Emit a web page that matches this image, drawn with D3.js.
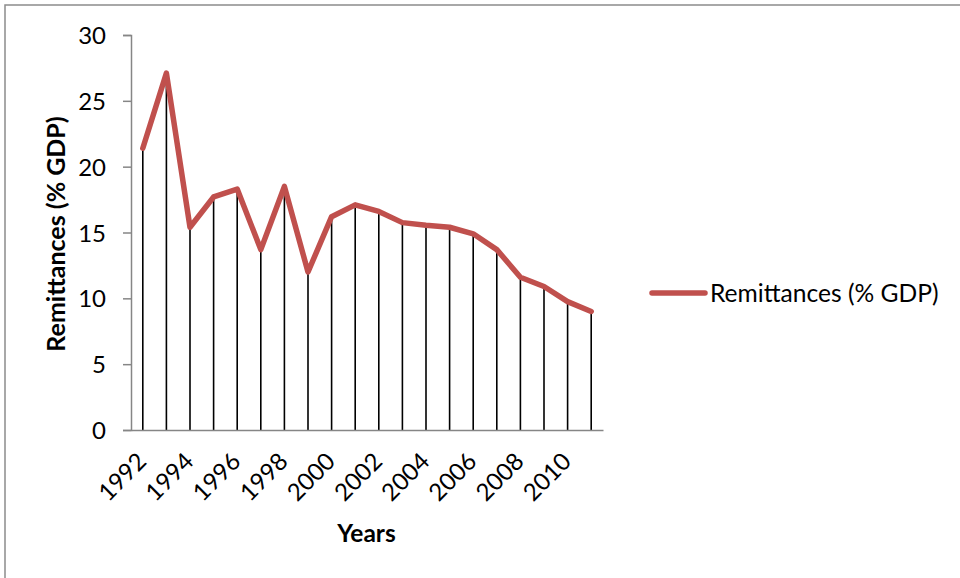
<!DOCTYPE html>
<html>
<head>
<meta charset="utf-8">
<script src="https://cdn.jsdelivr.net/npm/d3@7"></script>
<style>
  html, body { margin: 0; padding: 0; background: #fff; }
  svg { display: block; }
  text { font-family: Lato, "Open Sans", sans-serif; fill: #000; }
</style>
</head>
<body>
<svg id="chart" width="960" height="578"></svg>
<script>
// Remittances as a share of GDP, 1992-2011
const years = [1992, 1993, 1994, 1995, 1996, 1997, 1998, 1999, 2000, 2001,
               2002, 2003, 2004, 2005, 2006, 2007, 2008, 2009, 2010, 2011];
const remittances = [21.4, 27.1, 15.4, 17.7, 18.3, 13.7, 18.5, 12.0, 16.2, 17.1,
                     16.6, 15.75, 15.55, 15.4, 14.9, 13.7, 11.6, 10.9, 9.75, 9.0];
const yTicks = [0, 5, 10, 15, 20, 25, 30];
const xTickLabels = ["1992", "1994", "1996", "1998", "2000", "2002", "2004", "2006", "2008", "2010"];
const seriesName = "Remittances (% GDP)";
const xTitle = "Years";
const yTitle = "Remittances (% GDP)";

const svg = d3.select("#chart");
const red = "#C0504D";
const axisGray = "#868686";

// chart frame
svg.append("rect")
  .attr("x", 5).attr("y", 5)
  .attr("width", 970).attr("height", 590)
  .attr("fill", "none")
  .attr("stroke", "#8c8c8c")
  .attr("stroke-width", 1.5);

const plot = { left: 131, right: 603, top: 35, bottom: 430 };

const x = d3.scaleBand()
  .domain(years.map(String))
  .range([plot.left, plot.right]);

const y = d3.scaleLinear()
  .domain([0, 30])
  .range([plot.bottom, plot.top]);

const cx = d => x(String(d)) + x.bandwidth() / 2;

// y axis
const yAxis = svg.append("g")
  .attr("transform", `translate(${plot.left},0)`)
  .call(d3.axisLeft(y).tickValues(yTicks).tickSize(8).tickPadding(17));
yAxis.select(".domain").attr("stroke", axisGray).attr("stroke-width", 1.5);
yAxis.selectAll(".tick line").attr("stroke", axisGray).attr("stroke-width", 1.5);
yAxis.selectAll(".tick text")
  .style("font-family", "Lato, sans-serif")
  .style("font-size", "24px")
  .attr("dy", "0.36em");

// drop lines from each point down to the axis
svg.append("g")
  .selectAll("line")
  .data(years)
  .join("line")
  .attr("x1", d => cx(d)).attr("x2", d => cx(d))
  .attr("y1", (d, i) => y(remittances[i]))
  .attr("y2", y(0))
  .attr("stroke", "#000")
  .attr("stroke-width", 1.6);

// x axis baseline
const xAxis = svg.append("g")
  .attr("transform", `translate(0,${plot.bottom})`)
  .call(d3.axisBottom(x).tickSize(0).tickFormat(""));
xAxis.select(".domain").attr("stroke", axisGray).attr("stroke-width", 1.5);

// rotated year labels
svg.append("g")
  .selectAll("text")
  .data(xTickLabels)
  .join("text")
  .attr("transform", d => `translate(${x(d) + x.bandwidth() / 2 + 5},${plot.bottom + 33}) rotate(-45)`)
  .attr("text-anchor", "end")
  .style("font-size", "24px")
  .text(d => d);

// series line
const line = d3.line()
  .x((d, i) => cx(years[i]))
  .y(d => y(d));

svg.append("path")
  .datum(remittances)
  .attr("d", line)
  .attr("fill", "none")
  .attr("stroke", red)
  .attr("stroke-width", 5.5)
  .attr("stroke-linejoin", "round")
  .attr("stroke-linecap", "round");

// axis titles
svg.append("text")
  .attr("x", 366.5).attr("y", 542)
  .attr("text-anchor", "middle")
  .style("font-size", "24.5px")
  .style("font-weight", "bold")
  .text(xTitle);

svg.append("text")
  .attr("transform", "translate(65,234) rotate(-90)")
  .attr("text-anchor", "middle")
  .style("font-size", "25px")
  .style("font-weight", "bold")
  .text(yTitle);

// legend
const legend = svg.append("g");
legend.append("line")
  .attr("x1", 652).attr("x2", 705)
  .attr("y1", 293).attr("y2", 293)
  .attr("stroke", red)
  .attr("stroke-width", 5.5)
  .attr("stroke-linecap", "round");
legend.append("text")
  .attr("x", 710).attr("y", 302)
  .style("font-size", "24.6px")
  .text(seriesName);
</script>
</body>
</html>
